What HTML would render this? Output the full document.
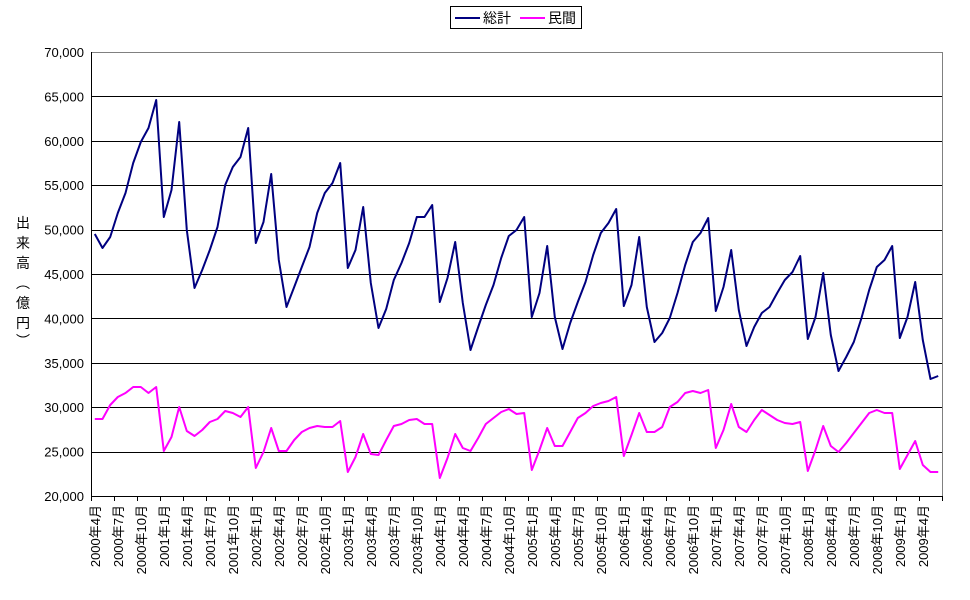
<!DOCTYPE html>
<html><head><meta charset="utf-8"><style>
html,body{margin:0;padding:0;background:#fff;}
svg{display:block;font-family:"Liberation Sans","Noto Sans CJK JP",sans-serif;}
</style></head><body>
<svg width="970" height="600" viewBox="0 0 970 600" xmlns="http://www.w3.org/2000/svg">
<rect width="970" height="600" fill="#fff"/>
<g id="grid" stroke="#000" stroke-width="1"></g>
<rect x="91.5" y="52.5" width="851" height="444" fill="none" stroke="#808080" stroke-width="1"/>
<line x1="91.5" y1="52" x2="91.5" y2="497" stroke="#000"/>
<line x1="91" y1="496.5" x2="943" y2="496.5" stroke="#000"/>
<g id="ticks" stroke="#000"></g>
<g id="ylab" font-size="13" text-anchor="end" fill="#000"></g>
<g id="xlab" font-size="13" fill="#000"></g>
<polyline id="s1" fill="none" stroke="#000080" stroke-width="2" stroke-linejoin="round"/>
<polyline id="s2" fill="none" stroke="#FF00FF" stroke-width="2" stroke-linejoin="round"/>
<rect x="450.5" y="6.5" width="131" height="22" fill="#fff" stroke="#000"/>
<line x1="455" y1="18" x2="480" y2="18" stroke="#000080" stroke-width="2"/>
<text x="483" y="23" font-size="14">総計</text>
<line x1="520" y1="18" x2="545" y2="18" stroke="#FF00FF" stroke-width="2"/>
<text x="548" y="23" font-size="14">民間</text>
<g font-size="14" text-anchor="middle" fill="#000">
<text x="23" y="228">出</text>
<text x="23" y="248">来</text>
<text x="23" y="268">高</text>
<text x="23" y="288">︵</text>
<text x="23" y="308">億</text>
<text x="23" y="328">円</text>
<text x="23" y="346">︶</text>
</g>
</svg>
<script>
var ns="http://www.w3.org/2000/svg";
function el(p,t,a,txt){var e=document.createElementNS(ns,t);for(var k in a)e.setAttribute(k,a[k]);if(txt)e.textContent=txt;document.getElementById(p).appendChild(e);}
for(var v=25000;v<=65000;v+=5000){var y=496-(v-20000)/5000*44.4;el("grid","line",{x1:91,y1:Math.round(y)+0.5,x2:942,y2:Math.round(y)+0.5});}
for(var v=20000;v<=70000;v+=5000){var y=496-(v-20000)/5000*44.4;el("ylab","text",{x:84,y:y+5},v.toLocaleString("en-US"));}
var sp=851/111;
for(var k=0;k<=37;k++){var x=Math.round(91+3*k*sp)+0.5;if(x>943)break;el("ticks","line",{x1:x,y1:496,x2:x,y2:501});}
var mons=[4,7,10,1];
for(var i=0;i<111;i+=3){var m=mons[(i/3)%4];var yr=2000+Math.floor((i+3)/12);var x=91+sp/2+i*sp+5;
el("xlab","text",{x:0,y:0,transform:"translate("+x+",505) rotate(-90)","text-anchor":"end"},yr+"年"+m+"月");}
var a=[234,248,237,213,193,163,142,128,100,217,190,122,230,288,270,250,227,185,167,157,128,243,222,174,260,307,287,267,247,213,193,183,163,268,250,207,283,328,309,280,263,243,217,217,205,302,278,242,303,350,327,305,285,258,236,230,217,317,293,246,317,349,323,302,282,255,233,223,209,306,285,237,307,342,333,318,293,265,242,233,218,311,287,250,310,346,327,313,307,293,280,272,256,339,317,273,335,371,357,342,318,290,267,260,246,338,317,282,340,379,376];
var b=[419,419,405,397,393,387,387,393,387,451,437,407,431,436,430,422,419,411,413,417,407,468,452,428,451,451,440,432,428,426,427,427,421,472,457,434,454,455,440,426,424,420,419,424,424,478,458,434,448,451,438,424,418,412,409,414,413,470,450,428,446,446,432,418,413,406,403,401,397,456,435,413,432,432,427,407,402,393,391,393,390,448,430,404,427,432,420,410,415,420,423,424,422,471,450,426,446,452,443,433,423,413,410,413,413,469,455,441,465,472,472];
function pts(arr){return arr.map(function(y,i){return (91+sp/2+i*sp).toFixed(1)+","+y;}).join(" ");}
document.getElementById("s1").setAttribute("points",pts(a));
document.getElementById("s2").setAttribute("points",pts(b));
</script>
</body></html>
